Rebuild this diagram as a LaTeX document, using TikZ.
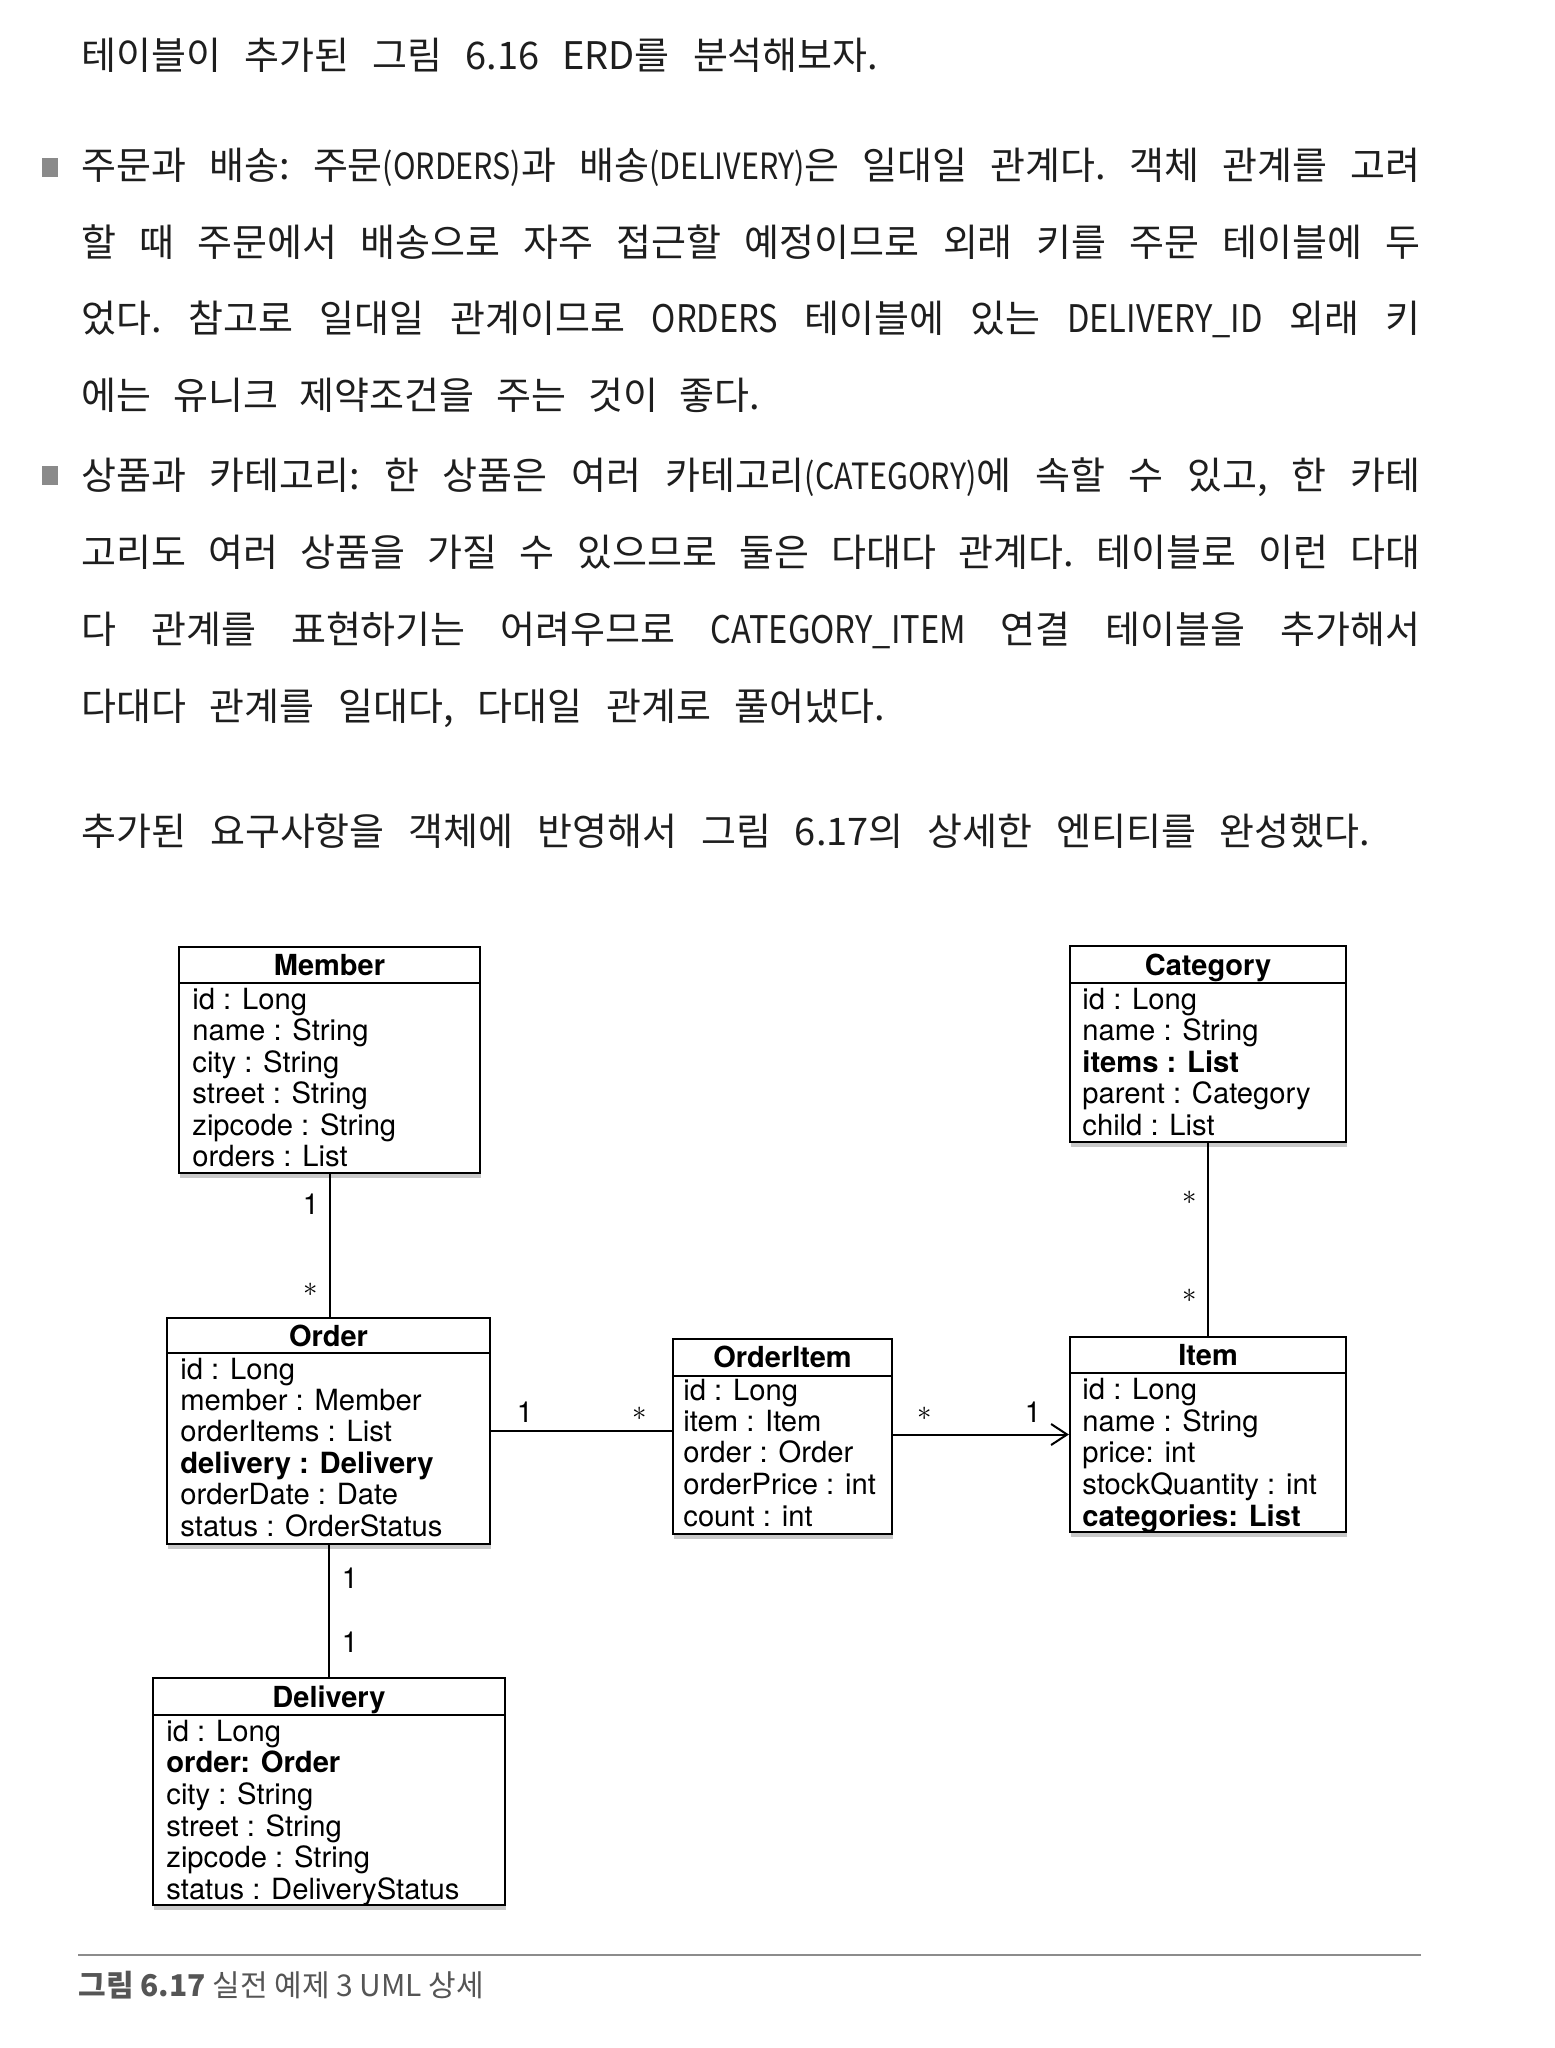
\documentclass[tikz,border=0pt]{standalone}
\usepackage{fontspec}
\usepackage{graphicx}
\setmainfont{TeX Gyre Heros}
\newfontfamily\kr{Noto Sans CJK KR}
\usetikzlibrary{shadows,arrows.meta,fit}
\definecolor{txt}{HTML}{1E1E1E}
\definecolor{bul}{HTML}{8A8A8A}
\definecolor{capc}{HTML}{555555}
\newcommand\latn[1]{\scalebox{0.86}[1]{#1}}
\newcommand\latp[1]{\scalebox{0.8}[0.95]{#1}}
\newcommand\astk{\fontsize{15pt}{15pt}\selectfont$\ast$}
\begin{document}
\begin{tikzpicture}[x=0.5pt,y=-0.5pt,
  para/.style={anchor=base west,inner sep=0,text=txt,font=\kr\fontsize{19pt}{21pt}\selectfont\frenchspacing},
  classbox/.style={draw,line width=1.1pt,fill=white,inner sep=0,
    drop shadow={shadow xshift=0.6pt,shadow yshift=-2.4pt,opacity=0.35,fill=black!60}},
  hdr/.style={line width=1pt},
  ttl/.style={anchor=base,inner sep=0,font=\fontsize{14.5pt}{16pt}\selectfont\bfseries},
  attr/.style={anchor=base west,inner sep=0,font=\fontsize{14.6pt}{16pt}\selectfont},
  battr/.style={attr,font=\fontsize{14.6pt}{16pt}\selectfont\bfseries},
  mult/.style={anchor=center,inner sep=0,font=\fontsize{14.5pt}{16pt}\selectfont},
  conn/.style={line width=1pt},
  bulletsq/.style={fill=bul}
]
\useasboundingbox[fill=white] (0,0) rectangle (1554,2048);

% ---------------- text ----------------
\node[para] (t1) at (81,70) {\makebox[398.5pt][s]{테이블이 추가된 그림 6.16 ERD를 분석해보자.}};
\fill[bulletsq] (42,158) rectangle (58,177);
\node[para] (t2) at (81,180) {\makebox[669.5pt][s]{주문과 배송: 주문\latp{(ORDERS)}과 배송\latp{(DELIVERY)}은 일대일 관계다. 객체 관계를 고려}};
\node[para] (t3) at (81,257) {\makebox[669.5pt][s]{할 때 주문에서 배송으로 자주 접근할 예정이므로 외래 키를 주문 테이블에 두}};
\node[para] (t4) at (81,333) {\makebox[669.5pt][s]{었다. 참고로 일대일 관계이므로 \latn{ORDERS} 테이블에 있는 \latn{DELIVERY\_ID} 외래 키}};
\node[para] (t5) at (81,410) {\makebox[339.5pt][s]{에는 유니크 제약조건을 주는 것이 좋다.}};
\fill[bulletsq] (42,466) rectangle (58,485);
\node[para] (t6) at (81,489) {\makebox[669.5pt][s]{상품과 카테고리: 한 상품은 여러 카테고리\latp{(CATEGORY)}에 속할 수 있고, 한 카테}};
\node[para] (t7) at (81,566) {\makebox[669.5pt][s]{고리도 여러 상품을 가질 수 있으므로 둘은 다대다 관계다. 테이블로 이런 다대}};
\node[para] (t8) at (81,643) {\makebox[669.5pt][s]{다 관계를 표현하기는 어려우므로 \latn{CATEGORY\_ITEM} 연결 테이블을 추가해서}};
\node[para] (t9) at (81,720) {\makebox[402pt][s]{다대다 관계를 일대다, 다대일 관계로 풀어냈다.}};
\node[para] (t10) at (81,845) {\makebox[644.5pt][s]{추가된 요구사항을 객체에 반영해서 그림 6.17의 상세한 엔티티를 완성했다.}};

% ---------------- boxes ----------------
% Member
\node[classbox,fit={(179,947) (480,1173)}] (member) {};
\draw[hdr] (179,983) -- (480,983);
\node[ttl] (memberT) at (329.5,975) {Member};
\node[attr] (m1) at (192,1009) {id : Long};
\node[attr] (m2) at (192,1040) {name : String};
\node[attr] (m3) at (192,1072) {city : String};
\node[attr] (m4) at (192,1103) {street : String};
\node[attr] (m5) at (192,1135) {zipcode : String};
\node[attr] (m6) at (192,1166) {orders : List};

% Category
\node[classbox,fit={(1070,946) (1346,1142)}] (category) {};
\draw[hdr] (1070,983) -- (1346,983);
\node[ttl] (categoryT) at (1208,975) {Category};
\node[attr] (c1) at (1082,1009) {id : Long};
\node[attr] (c2) at (1082,1040) {name : String};
\node[battr] (c3) at (1082,1072) {items : List};
\node[attr] (c4) at (1082,1103) {parent : Category};
\node[attr] (c5) at (1082,1135) {child : List};

% Order
\node[classbox,fit={(167,1318) (490,1544)}] (order) {};
\draw[hdr] (167,1353) -- (490,1353);
\node[ttl] (orderT) at (328.5,1346) {Order};
\node[attr] (o1) at (180,1379) {id : Long};
\node[attr] (o2) at (180,1410) {member : Member};
\node[attr] (o3) at (180,1441) {orderItems : List};
\node[battr] (o4) at (180,1473) {delivery : Delivery};
\node[attr] (o5) at (180,1504) {orderDate : Date};
\node[attr] (o6) at (180,1536) {status : OrderStatus};

% OrderItem
\node[classbox,fit={(673,1339) (892,1534)}] (orderitem) {};
\draw[hdr] (673,1376) -- (892,1376);
\node[ttl] (orderitemT) at (782.5,1367) {OrderItem};
\node[attr] (oi1) at (683,1400) {id : Long};
\node[attr] (oi2) at (683,1431) {item : Item};
\node[attr] (oi3) at (683,1462) {order : Order};
\node[attr] (oi4) at (683,1494) {orderPrice : int};
\node[attr] (oi5) at (683,1526) {count : int};

% Item
\node[classbox,fit={(1070,1337) (1346,1532)}] (item) {};
\draw[hdr] (1070,1373) -- (1346,1373);
\node[ttl] (itemT) at (1208,1365) {Item};
\node[attr] (i1) at (1082,1399) {id : Long};
\node[attr] (i2) at (1082,1431) {name : String};
\node[attr] (i3) at (1082,1462) {price: int};
\node[attr] (i4) at (1082,1494) {stockQuantity : int};
\node[battr] (i5) at (1082,1526) {categories: List};

% Delivery
\node[classbox,fit={(153,1678) (505,1905)}] (delivery) {};
\draw[hdr] (153,1715) -- (505,1715);
\node[ttl] (deliveryT) at (329,1707) {Delivery};
\node[attr] (d1) at (166,1741) {id : Long};
\node[battr] (d2) at (166,1772) {order: Order};
\node[attr] (d3) at (166,1804) {city : String};
\node[attr] (d4) at (166,1836) {street : String};
\node[attr] (d5) at (166,1867) {zipcode : String};
\node[attr] (d6) at (166,1899) {status : DeliveryStatus};

% ---------------- connectors ----------------
\draw[conn] (member.south) -- (member.south |- order.north);
\draw[conn] (order.south) -- (order.south |- delivery.north);
\draw[conn] (order.east) -- (order.east -| orderitem.west);
\draw[conn,-{Straight Barb[length=8pt,width=10.5pt,line width=1pt]}] (orderitem.east |- item.west) -- (item.west);
\draw[conn] (category.south) -- (category.south |- item.north);

\node[mult] (l1) at (311,1204) {1};
\node[mult] (l2) at (311,1290) {\astk};
\node[mult] (l3) at (350,1578) {1};
\node[mult] (l4) at (350,1642) {1};
\node[mult] (l5) at (525,1412) {1};
\node[mult] (l6) at (640,1414) {\astk};
\node[mult] (l7) at (925,1414) {\astk};
\node[mult] (l8) at (1033,1412) {1};
\node[mult] (l9) at (1190,1198) {\astk};
\node[mult] (l10) at (1190,1296) {\astk};

% ---------------- caption ----------------
\draw[line width=1pt,draw=black!45] (78,1955) -- (1421,1955);
\node[anchor=base west,inner sep=0,text=capc,font=\kr\fontsize{15pt}{17pt}\selectfont] (caption) at (78,1996) {{\bfseries 그림 6.17} 실전 예제 3 UML 상세};
\end{tikzpicture}
\end{document}
